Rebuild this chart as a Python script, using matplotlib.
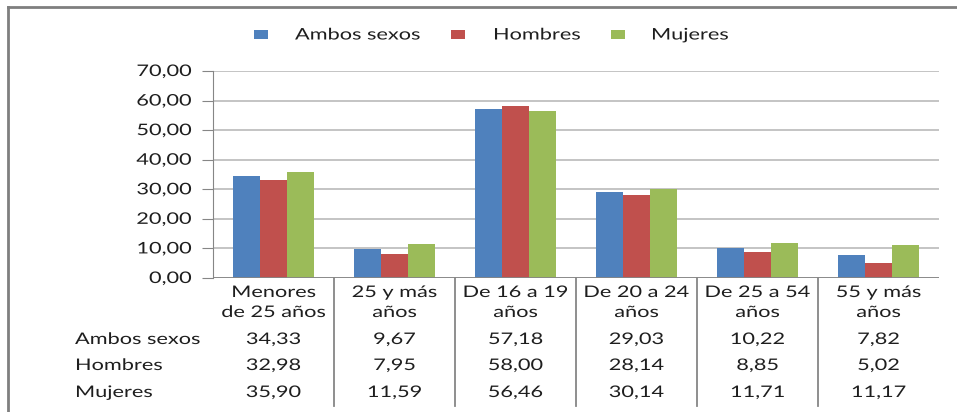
import matplotlib
matplotlib.use("Agg")
import matplotlib.pyplot as plt
import matplotlib.transforms as mtransforms
from matplotlib.lines import Line2D
from matplotlib.patches import Rectangle
from matplotlib.patheffects import AbstractPathEffect
import numpy as np

plt.rcParams['font.family'] = ['Lato', 'DejaVu Sans']

categorias = ["Menores\nde 25 años", "25 y más\naños", "De 16 a 19\naños",
              "De 20 a 24\naños", "De 25 a 54\naños", "55 y más\naños"]
series = ["Ambos sexos", "Hombres", "Mujeres"]
ambos = [34.33, 9.67, 57.18, 29.03, 10.22, 7.82]
hombres = [32.98, 7.95, 58.00, 28.14, 8.85, 5.02]
mujeres = [35.90, 11.59, 56.46, 30.14, 11.71, 11.17]
colores = ["#4F81BD", "#C0504D", "#9BBB59"]
yticks = [0, 10, 20, 30, 40, 50, 60, 70]


class Estirar(AbstractPathEffect):
    # the original text looks stretched sideways, so widen the glyph paths
    def __init__(self, sx, ancla="left"):
        super().__init__()
        self.sx = sx
        self.ancla = ancla

    def draw_path(self, renderer, gc, tpath, affine, rgbFace=None):
        v = tpath.vertices
        c = 0
        if len(v) and self.ancla == "center":
            c = (v[:, 0].min() + v[:, 0].max()) / 2
        elif len(v) and self.ancla == "right":
            c = v[:, 0].max()
        t = mtransforms.Affine2D().translate(-c, 0).scale(self.sx, 1).translate(c, 0) + affine
        renderer.draw_path(gc, tpath, t, rgbFace)


FS = 11.5
SX = 1.36
TXT = "#1E1E1E"
W, H = 957, 412
fig = plt.figure(figsize=(W / 100, H / 100), dpi=100)
x0, x1, ytop, ybot = 213, 939, 71, 278
ax = fig.add_axes([x0 / W, 1 - ybot / H, (x1 - x0) / W, (ybot - ytop) / H])


def texto(x, y, s, ha, transform):
    return ax.text(x, y, s, ha=ha, va="baseline", fontsize=FS, color=TXT, transform=transform,
                   clip_on=False, path_effects=[Estirar(SX, ha)])


n = len(categorias)
xc = np.arange(n) + 0.5
bw = 27 / 121
valores = [ambos, hombres, mujeres]
for i, (vals, col) in enumerate(zip(valores, colores)):
    ax.bar(xc + (i - 1) * bw, vals, width=bw, color=col, zorder=3)

ax.set_xlim(0, n)
ax.set_ylim(0, 70)
ax.set_yticks(yticks)
ax.tick_params(axis="y", length=8, color="#868686", labelleft=False)
ax.set_xticks([])
ax.grid(axis="y", color="#BFBFBF", linewidth=1.3, zorder=0)
for s in ["top", "right", "bottom"]:
    ax.spines[s].set_visible(False)
ax.spines["left"].set_color("#868686")
ax.axhline(0, color="#868686", linewidth=1.3, zorder=4)

# etiquetas del eje y
ytrans = mtransforms.offset_copy(ax.transData, fig, x=-21, y=-5, units="dots")
for v in yticks:
    texto(0, v, f"{v:.2f}".replace(".", ","), "right", ytrans)

# tabla de datos
trans = mtransforms.blended_transform_factory(ax.transData, ax.transAxes)
def ya(py):
    return (ybot - py) / (ybot - ytop)

for k in range(1, n):
    ax.plot([k, k], [0, ya(406)], transform=trans, color="#868686", linewidth=1.3, clip_on=False)
for j, c in enumerate(categorias):
    l1, l2 = c.split("\n")
    texto(xc[j], ya(297), l1, "center", trans)
    texto(xc[j], ya(317), l2, "center", trans)
filas_y = [344, 370, 397]
for r, (nombre, vals) in enumerate(zip(series, valores)):
    texto(75 / W, 1 - filas_y[r] / H, nombre, "left", fig.transFigure)
    for j, v in enumerate(vals):
        texto(xc[j], ya(filas_y[r]), f"{v:.2f}".replace(".", ","), "center", trans)

# leyenda
leg_x = [254, 451, 611]
leg_t = [295, 493, 651]
for nombre, col, xs, xt in zip(series, colores, leg_x, leg_t):
    fig.add_artist(Rectangle((xs / W, 1 - 38.5 / H), 14 / W, 9 / H, transform=fig.transFigure,
                             color=col, lw=0))
    texto(xt / W, 1 - 39.5 / H, nombre, "left", fig.transFigure)

# marco exterior
fig.add_artist(Line2D([8 / W, 1], [1 - 7 / H, 1 - 7 / H], transform=fig.transFigure, color="#7F7F7F", linewidth=2))
fig.add_artist(Line2D([8 / W, 8 / W], [0, 1 - 7 / H], transform=fig.transFigure, color="#7F7F7F", linewidth=2))

fig.savefig("out.png", dpi=100)
